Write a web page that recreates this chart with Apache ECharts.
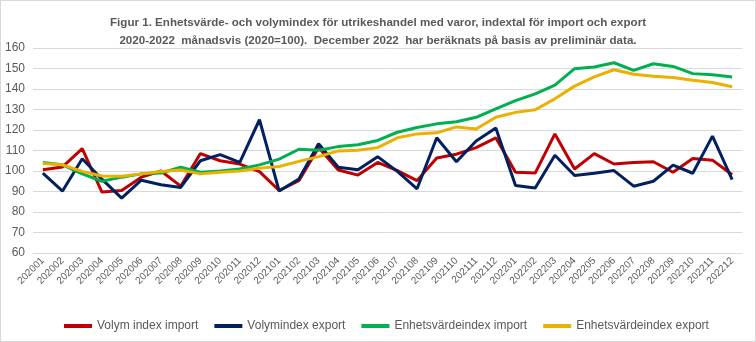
<!DOCTYPE html>
<html>
<head>
<meta charset="utf-8">
<script src="https://cdn.jsdelivr.net/npm/echarts@6/dist/echarts.min.js"></script>
<style>
html,body{margin:0;padding:0;background:#fff;}
#c{width:754px;height:340px;border:1px solid #d9d9d9;}
</style>
</head>
<body>
<div id="c"></div>
<script>
const categories = ['202001','202002','202003','202004','202005','202006','202007','202008','202009','202010','202011','202012',
 '202101','202102','202103','202104','202105','202106','202107','202108','202109','202110','202111','202112',
 '202201','202202','202203','202204','202205','202206','202207','202208','202209','202210','202211','202212'];
const volymImport = [100.6,102,110.9,89.7,90.5,97,100,92.6,108.5,105,103.4,99.7,
 90.5,95.3,111.4,100.5,98,104.2,100.2,95.3,106.3,108.2,111.4,116.2,
 99.4,99,118.1,101,108.5,103.4,104.2,104.5,99.4,106.1,105.3,98.2];
const volymExport = [99,90.2,106,96,86.8,95.5,93.3,92,105,108,104.2,125,
 90.2,96.1,113.3,101.8,100.6,107,99.8,91.3,116.2,104.5,114.6,121,
 92.9,91.7,107.7,97.8,98.9,100.2,92.6,95,102.9,98.9,117,95.8];
const enhetImport = [104.2,103,98.6,95,97,98.6,99,101.8,99.4,100,101,103,
 105.8,110.6,110.1,111.9,112.8,114.9,118.9,121.2,123,124,126.2,130.3,
 134.3,137.6,141.9,149.9,150.7,152.8,149.1,152.3,151,147.5,147,145.9];
const enhetExport = [103.7,103,99.8,97.6,97.4,98.6,99.7,100.5,98.6,99.4,100,101.4,
 102.2,104.7,107,109.8,110.1,111.4,116.2,118.1,118.6,121.5,120.5,126.2,
 128.6,129.9,135.2,141.4,145.9,149.4,147.2,146.2,145.6,144.3,143.2,141.1];
const seriesNames = ['Volym index import','Volymindex export','Enhetsvärdeindex import','Enhetsvärdeindex export'];
const colors = ['#C00000','#002060','#00B050','#EBB000'];
const dataSets = [volymImport, volymExport, enhetImport, enhetExport];

const chart = echarts.init(document.getElementById('c'));
const font = "'Liberation Sans',sans-serif";
chart.setOption({
  animation:false,
  title:{
    text:'Figur 1. Enhetsvärde- och volymindex för utrikeshandel med varor, indextal för import och export\n2020-2022  månadsvis (2020=100).  December 2022  har beräknats på basis av preliminär data.',
    left:'center', top:8,
    textStyle:{fontFamily:font,fontSize:11.6,fontWeight:'bold',color:'#595959',lineHeight:18}
  },
  legend:{
    data:seriesNames, left:58, top:314, itemWidth:28, itemHeight:4, itemGap:16, icon:'rect',
    textStyle:{fontFamily:font,fontSize:12,color:'#595959'}
  },
  grid:{left:32,right:13,top:47,bottom:88,containLabel:false},
  xAxis:{
    type:'category', data:categories, boundaryGap:true,
    axisLine:{show:true,lineStyle:{color:'#d9d9d9'}},
    axisTick:{show:false},
    axisLabel:{interval:0,rotate:45,fontFamily:font,fontSize:10,color:'#595959',margin:6}
  },
  yAxis:{
    type:'value', min:60, max:160, interval:10,
    axisLine:{show:false}, axisTick:{show:false},
    splitLine:{lineStyle:{color:'#d9d9d9'}},
    axisLabel:{fontFamily:font,fontSize:12,color:'#595959',margin:8}
  },
  series: dataSets.map((d,i)=>({
    name:seriesNames[i], type:'line', data:d, showSymbol:false, symbol:'none',
    lineStyle:{color:colors[i],width:3}, itemStyle:{color:colors[i]}
  }))
});
</script>
</body>
</html>
